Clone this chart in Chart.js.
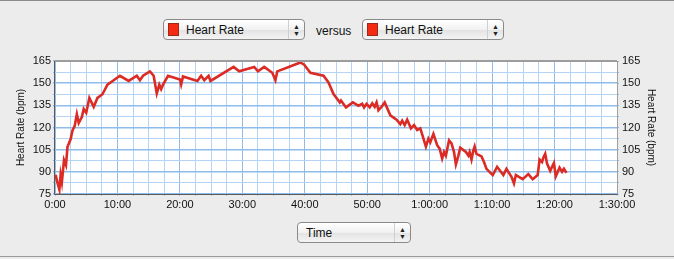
<!DOCTYPE html>
<html>
<head>
  <title>Heart Rate versus Time</title>
  <script src="https://cdn.jsdelivr.net/npm/chart.js"></script>
  <style>
    body { margin: 0; background: #ececec; font-family: "Liberation Sans", Arial, sans-serif; }
    #page { position: relative; width: 674px; height: 259px; overflow: hidden; border-top: 1px solid #8c8c8c; box-sizing: border-box; }
    #bottomLine { position: absolute; left: 0; top: 255px; width: 674px; height: 0; border-top: 1px solid #9a9a9a; }
    .popup { position: absolute; height: 21px; border: 1px solid #8a8a8a; border-radius: 4px; box-sizing: border-box;
      background: linear-gradient(#ffffff, #f1f1f1 50%, #e2e2e2 51%, #f4f4f4); font-size: 12px; color: #111; }
    .popup .swatch { position: absolute; left: 4px; top: 3px; width: 11px; height: 13px; background: #f42a12; border: 1px solid #9a2a1a; box-sizing: border-box; }
    .popup .label { position: absolute; top: 3px; }
    .popup .arrows { position: absolute; right: 0; top: 0; width: 16px; height: 19px; border-left: 1px solid #cfcfcf;
      font-size: 7px; line-height: 7px; text-align: center; padding-top: 3px; box-sizing: border-box; color: #222; }
    #versus { position: absolute; left: 316px; top: 23px; font-size: 12px; color: #111; }
    #chartBox { position: absolute; left: 0; top: 39px; width: 674px; height: 180px; }
  </style>
</head>
<body>
<div id="page">
  <div class="popup" style="left:163px; top:18px; width:142px;">
    <div class="swatch"></div><div class="label" style="left:22px;">Heart Rate</div>
    <div class="arrows">&#9650;<br>&#9660;</div>
  </div>
  <div id="versus">versus</div>
  <div class="popup" style="left:362px; top:18px; width:142px;">
    <div class="swatch"></div><div class="label" style="left:22px;">Heart Rate</div>
    <div class="arrows">&#9650;<br>&#9660;</div>
  </div>
  <div id="chartBox"><canvas id="hrChart"></canvas></div>
  <div class="popup" style="left:297px; top:221px; width:114px;">
    <div class="label" style="left:8px;">Time</div>
    <div class="arrows">&#9650;<br>&#9660;</div>
  </div>
  <div id="bottomLine"></div>
</div>

<script>
  // elapsed time in minutes, heart rate in bpm
  const timeMin = [0.1, 0.37, 0.7, 0.9, 1.1, 1.44, 1.76, 2.0, 2.5, 2.8, 3.15, 3.5, 3.8, 4.3, 4.6, 5.0, 5.5, 6.2, 6.8, 7.6,
    8.4, 9.4, 10.4, 11.8, 13.1, 13.6, 14.1, 15.2, 15.8, 16.3, 16.7, 17.0, 17.3, 18.1, 20.0, 20.2, 20.5, 22.8, 23.4, 23.9,
    24.6, 24.9, 28.6, 29.5, 31.9, 32.5, 33.5, 34.8, 35.3, 35.6, 39.3, 39.9, 40.9, 43.0, 43.8, 44.6, 45.2, 45.6, 45.8, 46.6,
    47.7, 48.6, 49.2, 49.5, 49.9, 50.4, 50.8, 51.2, 51.5, 51.8, 52.3, 52.8, 53.7, 54.7, 55.3, 55.6, 56.0, 56.4, 57.0, 57.5,
    58.0, 58.5, 59.4, 59.8, 60.1, 60.6, 61.2, 61.6, 62.0, 62.3, 62.6, 63.1, 63.5, 63.9, 64.2, 64.6, 64.9, 65.8, 66.2, 66.4,
    66.7, 67.0, 67.2, 67.5, 68.3, 68.7, 69.1, 70.1, 70.8, 71.8, 72.3, 73.1, 73.5, 73.8, 74.9, 75.8, 76.5, 77.3, 77.6, 78.0,
    78.2, 78.5, 78.8, 79.3, 79.9, 80.2, 80.8, 81.2, 81.5, 81.9];
  const heartRate = [88, 83, 78, 88, 83, 98, 94.5, 107, 112, 118, 121, 129, 123, 127, 132.5, 130, 140, 134, 140, 142.5,
    149, 152, 155, 151.5, 155, 152, 155, 158, 155, 143, 149, 146, 149, 155, 152.5, 149, 154.5, 151.5, 155, 152,
    155, 151.5, 161, 158, 161, 158, 161, 157, 152, 158, 164, 162.5, 157, 155, 150.5, 142.6, 139.3, 137, 138.3, 133.6,
    137, 134.7, 136, 133.6, 136, 133.6, 136.3, 134, 137, 131.6, 134, 137, 128.2, 125.3, 122.3, 124.6, 121.6, 125.3, 119.4, 121.6,
    118.3, 119.4, 107, 112.4, 110, 115.7, 108, 105.7, 99, 103.4, 101, 111.3, 109.2, 103.4, 95, 101, 106.3, 103.4, 101, 103.4,
    98.3, 104.6, 107.2, 102.2, 100.4, 96.6, 92, 87.8, 93.4, 87.8, 92, 86.7, 82.2, 87.8, 85, 88.5, 85, 87.8, 98.3, 96.6,
    99.6, 102.2, 95.6, 90.7, 96, 87, 92.8, 90, 92.1, 89.3];

  const xTickLabels = ['0:00', '10:00', '20:00', '30:00', '40:00', '50:00', '1:00:00', '1:10:00', '1:20:00', '1:30:00'];
  const yTickLabels = ['75', '90', '105', '120', '135', '150', '165'];

  const tickFont = { family: '"Liberation Sans", Arial, sans-serif', size: 11 };
  const titleFont = { family: '"Liberation Sans", Arial, sans-serif', size: 10 };

  function yLabel(v) {
    const i = (v - 75) / 15;
    return Number.isInteger(i) ? yTickLabels[i] : '';
  }

  // white plot background and the frame around it
  const plotFrame = {
    id: 'plotFrame',
    beforeDraw(chart) {
      const { ctx, chartArea: a } = chart;
      ctx.save();
      ctx.fillStyle = '#ffffff';
      ctx.fillRect(a.left, a.top, a.right - a.left, a.bottom - a.top);
      ctx.restore();
    },
    afterDatasetsDraw(chart) {
      const { ctx, chartArea: a } = chart;
      ctx.save();
      ctx.strokeStyle = '#9c9c9c';
      ctx.lineWidth = 2;
      ctx.beginPath(); ctx.moveTo(a.left, a.top); ctx.lineTo(a.right, a.top); ctx.stroke();
      ctx.lineWidth = 1;
      ctx.strokeStyle = '#a0a0a0';
      ctx.beginPath(); ctx.moveTo(a.right + 0.5, a.top); ctx.lineTo(a.right + 0.5, a.bottom); ctx.stroke();
      ctx.strokeStyle = '#5a5a5a';
      ctx.beginPath(); ctx.moveTo(a.left - 0.5, a.top); ctx.lineTo(a.left - 0.5, a.bottom + 0.5);
      ctx.lineTo(a.right + 0.5, a.bottom + 0.5); ctx.stroke();
      ctx.restore();
    }
  };

  new Chart(document.getElementById('hrChart'), {
    type: 'line',
    data: {
      datasets: [{
        label: 'Heart Rate',
        data: timeMin.map((t, i) => ({ x: t, y: heartRate[i] })),
        borderColor: '#dc2a24',
        borderWidth: 2.6,
        pointRadius: 0,
        tension: 0,
        fill: false
      }]
    },
    options: {
      responsive: true,
      maintainAspectRatio: false,
      animation: false,
      layout: { padding: { top: 21, left: 0, right: 0, bottom: 0 } },
      plugins: { legend: { display: false }, tooltip: { enabled: false } },
      scales: {
        x: {
          type: 'linear',
          min: 0,
          max: 90,
          border: { display: false },
          grid: {
            color: (c) => (c.tick && c.tick.value % 10 === 0) ? '#8ebdec' : '#b3d4f5',
            lineWidth: 1,
            tickLength: 2,
            tickColor: '#a8cbf0'
          },
          ticks: {
            stepSize: 2.5,
            autoSkip: false,
            maxRotation: 0,
            padding: 2,
            color: '#111',
            font: tickFont,
            callback: (v) => v % 10 === 0 ? xTickLabels[v / 10] : ''
          },
          afterFit: (s) => { s.height = 26; }
        },
        y: {
          position: 'left',
          min: 75,
          max: 165,
          border: { display: false },
          grid: {
            color: (c) => (c.tick && (c.tick.value - 75) % 15 === 0) ? '#8ebdec' : '#b3d4f5',
            lineWidth: (c) => (c.tick && (c.tick.value - 75) % 15 === 0) ? 1.6 : 1,
            tickLength: 2,
            tickColor: '#8ebdec'
          },
          ticks: { stepSize: 7.5, autoSkip: false, padding: 2, color: '#111', font: tickFont, callback: yLabel },
          title: { display: true, text: 'Heart Rate (bpm)', color: '#111', font: titleFont, padding: { top: 15, bottom: 0 } },
          afterFit: (s) => { s.width = 55; }
        },
        y2: {
          position: 'right',
          min: 75,
          max: 165,
          border: { display: false },
          grid: { drawOnChartArea: false, tickLength: 2, tickColor: '#8ebdec' },
          ticks: { stepSize: 7.5, autoSkip: false, padding: 3, color: '#111', font: tickFont, callback: yLabel },
          title: { display: true, text: 'Heart Rate (bpm)', color: '#111', font: titleFont, padding: { top: 17, bottom: 0 } },
          afterFit: (s) => { s.width = 57; }
        }
      }
    },
    plugins: [plotFrame]
  });
</script>
</body>
</html>
